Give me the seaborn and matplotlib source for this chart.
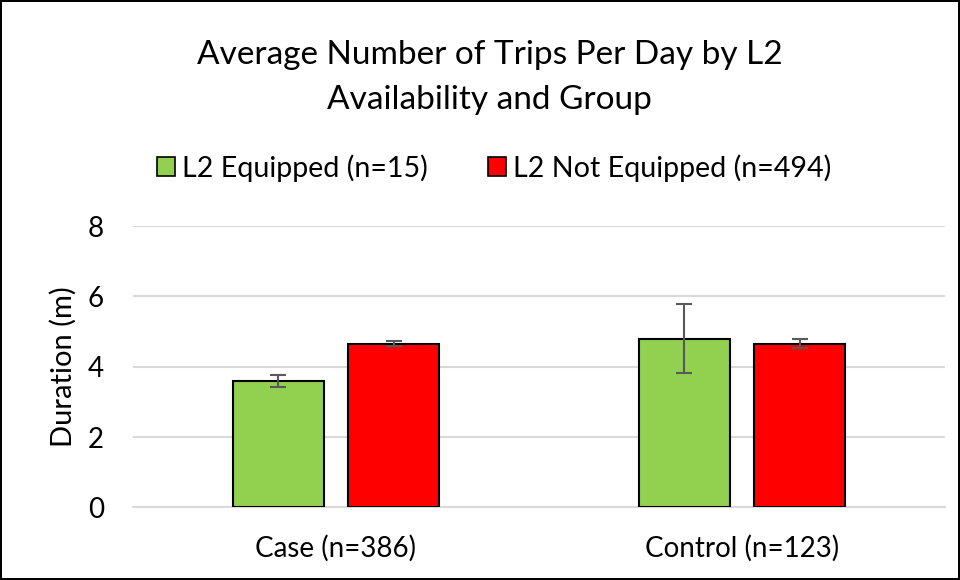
import matplotlib
matplotlib.use("Agg")
import matplotlib.pyplot as plt
import seaborn as sns
import pandas as pd
import numpy as np
from matplotlib.patches import Patch

groups = ["Case (n=386)", "Control (n=123)"]
series = ["L2 Equipped (n=15)", "L2 Not Equipped (n=494)"]
equipped = [3.59, 4.80]
not_equipped = [4.66, 4.66]
equipped_err = [0.18, 0.97]
not_equipped_err = [0.08, 0.12]
colors = ["#92d050", "#ff0000"]
title = "Average Number of Trips Per Day by L2\nAvailability and Group"
ylabel = "Duration (m)"
yticks = [0, 2, 4, 6, 8]

df = pd.DataFrame({
    "group": groups * 2,
    "series": [series[0]] * 2 + [series[1]] * 2,
    "value": equipped + not_equipped,
    "err": equipped_err + not_equipped_err,
})

sns.set_theme(style="white")
plt.rcParams["font.family"] = ["Lato", "DejaVu Sans"]
plt.rcParams["text.color"] = "black"
plt.rcParams["axes.labelcolor"] = "black"

fig = plt.figure(figsize=(9.6, 5.8), dpi=100)
fig.patch.set_edgecolor("black")
fig.patch.set_linewidth(1.5)
ax = fig.add_axes([0.1385, 0.1253, 0.8458, 0.4849])

sns.barplot(data=df, x="group", y="value", hue="series", order=groups,
            hue_order=series, palette=colors, width=0.57, gap=0.214,
            errorbar=None, edgecolor="black", linewidth=1.5,
            legend=False, ax=ax, zorder=3, saturation=1)

# error bars at bar centres
for cont, s in zip(ax.containers, series):
    sub = df[df["series"] == s].set_index("group").loc[groups]
    xs = [p.get_x() + p.get_width() / 2 for p in cont.patches]
    ax.errorbar(xs, sub["value"].values, yerr=sub["err"].values, fmt="none",
                ecolor="#595959", elinewidth=1.5, capsize=6, capthick=1.5, zorder=4)

ax.set_ylim(0, 8)
ax.set_xlim(-0.5, 1.5)
ax.set_yticks(yticks)
ax.yaxis.grid(True, color="#d9d9d9", linewidth=1.5, zorder=0)
ax.set_axisbelow(True)
for side in ["top", "right", "left"]:
    ax.spines[side].set_visible(False)
ax.spines["bottom"].set_color("#d9d9d9")
ax.spines["bottom"].set_linewidth(1.5)
ax.tick_params(axis="both", length=0, labelsize=20, colors="black")
ax.tick_params(axis="y", pad=21)
ax.tick_params(axis="x", pad=20)
ax.set_xlabel("")
ax.set_ylabel(ylabel, fontsize=21, labelpad=8)

fig.text(0.51, 1 - 77.5 / 580, title, ha="center", va="center", fontsize=24,
         linespacing=1.6)

handles = [Patch(facecolor=c, edgecolor="black", linewidth=1.2) for c in colors]
fig.legend(handles, series, loc="center", bbox_to_anchor=(494 / 960, 1 - 168 / 580),
           ncol=2, frameon=False, fontsize=20.6, handlelength=0.63, handleheight=0.63,
           handletextpad=0.25, columnspacing=2.1)

fig.savefig("out.png", dpi=100)
